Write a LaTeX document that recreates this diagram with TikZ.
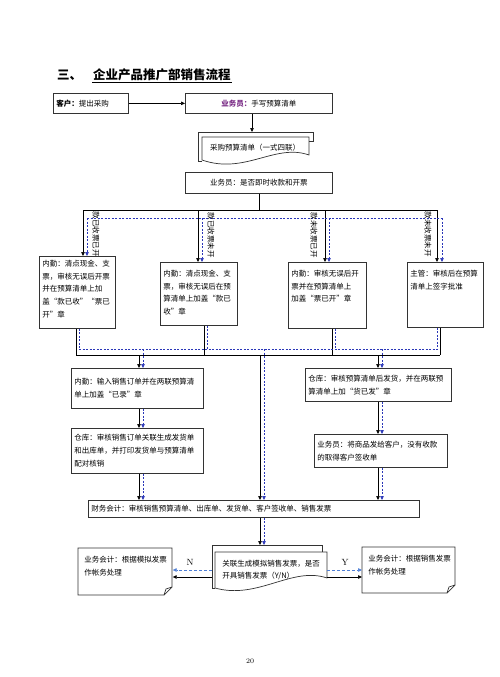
\documentclass[tikz,border=0pt]{standalone}
\usepackage{fontspec}
\newfontfamily\cjk{Noto Sans CJK SC}
\usetikzlibrary{arrows.meta}

\definecolor{ywypurple}{HTML}{7A2C86}
\definecolor{fanblue}{HTML}{2A36B8}
\definecolor{ynblue}{HTML}{4F7FD6}

\tikzset{
  box/.style={draw=black!80, line width=0.7pt, anchor=north west, inner sep=3pt, font=\cjk\fontsize{7.5}{12.8}\selectfont},
  txt/.style={font=\cjk\fontsize{7.5}{12.5}\selectfont, inner sep=1pt},
  ttl/.style={font=\cjk\bfseries\fontsize{12.5}{14}\selectfont, inner sep=1pt, anchor=west},
  vlab/.style={font=\cjk\fontsize{7.5}{8}\selectfont, rotate=-90, inner sep=0.5pt},
  yn/.style={font=\fontsize{9}{10}\selectfont, inner sep=1pt},
  outline/.style={draw=black!80, line width=0.7pt},
  conn/.style={draw=black, line width=0.6pt},
  arr/.style={conn, -{Triangle[length=4pt,width=3.5pt]}},
  dconn/.style={draw=fanblue, line width=0.6pt, dash pattern=on 2pt off 1.5pt},
  darr/.style={dconn, -{Triangle[length=4pt,width=3.5pt]}},
  ynarr/.style={draw=ynblue, line width=0.6pt, dash pattern=on 3pt off 2pt, -{Triangle[length=4pt,width=3.5pt]}},
}

\begin{document}
\begin{tikzpicture}[x=1pt,y=1pt,yscale=-1]
\useasboundingbox (0,0) rectangle (500,677);

% Title
\node[ttl] (nNo) at (56,75) {三、};
\node[ttl] (nTitle) at (92,75) {企业产品推广部销售流程};
\draw[line width=0.6pt] (nTitle.south west) -- (nTitle.south east);

% Top row
\node[box, text width=69pt, minimum height=20pt, align=left] (nKehu) at (53,93) {\textbf{客户：}提出采购};
\node[box, minimum width=147pt, minimum height=20pt] (nYwy) at (185,93) {\textcolor{ywypurple}{\textbf{业务员：}}手写预算清单};
\draw[arr] (nKehu) -- (nYwy);

%Shape: purchase list (multi document)
\draw[outline] (202,161) -- (198,161) -- (198,132) -- (313,132) -- (313,141) -- (309,141);
\draw[outline] (202,137) -- (309,137) -- (309,155) .. controls (275,143) and (245,175) .. (202,160) -- cycle;
\node[txt] (nDoc) at (255,148) {采购预算清单（一式四联）};
\coordinate (docTop) at (252,132);
\draw[arr] (nYwy.south -| docTop) -- (docTop);

\node[box, minimum width=147pt, minimum height=21pt] (nQ) at (185,172) {业务员：是否即时收款和开票};

% Fan out to the four cases
\coordinate (cA) at (83,210);  \coordinate (cB) at (198,210);
\coordinate (cC) at (325,210); \coordinate (cD) at (437,210);
\coordinate (dA) at (87,218);  \coordinate (dB) at (202,218);
\coordinate (dC) at (329,218); \coordinate (dD) at (442,218);

\node[box, inner ysep=3.5pt] (nA) at (39,256) {\parbox[t][65pt][t]{70pt}{内勤：清点现金、支\\票，审核无误后开票\\并在预算清单上加\\盖“款已收”“票已\\开”章}};
\node[box, inner ysep=7.5pt] (nB) at (160,262) {\parbox[t][48pt][t]{71pt}{内勤：清点现金、支\\票，审核无误后在预\\算清单上加盖“款已\\收”章}};
\node[box, inner ysep=7.5pt] (nC) at (288,262) {\parbox[t][51pt][t]{72pt}{内勤：审核无误后开\\票并在预算清单上\\加盖“票已开”章}};
\node[box, inner ysep=7.5pt] (nD) at (407,262) {\parbox[t][50pt][t]{70pt}{主管：审核后在预算\\清单上签字批准}};

\draw[conn] (nQ.south) -- (nQ.south |- cA);
\draw[conn] (cA) -- (cD);
\foreach \c/\n in {cA/nA,cB/nB,cC/nC,cD/nD}
  \draw[arr] (\c) -- (\c |- \n.north);
\draw[dconn] (dA) -- (dD);
\foreach \c/\n in {dA/nA,dB/nB,dC/nC,dD/nD}
  \draw[darr] (\c) -- (\c |- \n.north);

\node[vlab] (lA) at (96,234) {款已收票已开};
\node[vlab] (lB) at (211,235) {款已收票未开};
\node[vlab] (lC) at (314,235) {款未收票已开};
\node[vlab] (lD) at (428,234) {款未收票未开};

% Merge below the four cases
\coordinate (bA) at (76,355);  \coordinate (bB) at (204,355);
\coordinate (bC) at (332,355); \coordinate (bD) at (440,355);
\coordinate (eA) at (79,349);  \coordinate (eB) at (207,349);
\coordinate (eC) at (335,349); \coordinate (eD) at (437,349);
\coordinate (bE) at (139,355); \coordinate (bI) at (260,355); \coordinate (bG) at (378,355);
\coordinate (eE) at (143,349); \coordinate (eI) at (264,349); \coordinate (eG) at (382,349);

\foreach \c/\n in {bA/nA,bB/nB,bC/nC,bD/nD}
  \draw[conn] (\n.south -| \c) -- (\c);
\foreach \c/\n in {eA/nA,eB/nB,eC/nC,eD/nD}
  \draw[dconn] (\n.south -| \c) -- (\c);
\draw[conn] (bA) -- (bD);
\draw[dconn] (eA) -- (eD);

% Second level
\node[box, text width=126pt, minimum height=40pt, align=left] (nE) at (71,368) {内勤：输入销售订单并在两联预算清\\单上加盖“已录”章};
\node[box, text width=126pt, minimum height=45pt, align=left] (nF) at (71,428) {仓库：审核销售订单关联生成发货单\\和出库单，并打印发货单与预算清单\\配对核销};
\node[box, text width=140pt, minimum height=33pt, align=left] (nG) at (305,368) {仓库：审核预算清单后发货，并在两联预\\算清单上加“货已发”章};
\node[box, text width=127pt, minimum height=33pt, align=left] (nH) at (314,434) {业务员：将商品发给客户，没有收款\\的取得客户签收单};
\node[box, text width=325pt, minimum height=17pt, align=left] (nI) at (88,500) {财务会计：审核销售预算清单、出库单、发货单、客户签收单、销售发票};

\draw[arr] (bE) -- (bE |- nE.north);
\draw[darr] (eE) -- (eE |- nE.north);
\draw[arr] (bE |- nE.south) -- (bE |- nF.north);
\draw[darr] (eE |- nE.south) -- (eE |- nF.north);
\draw[arr] (bE |- nF.south) -- (bE |- nI.north);
\draw[darr] (eE |- nF.south) -- (eE |- nI.north);

\draw[arr] (bI) -- (bI |- nI.north);
\draw[darr] (eI) -- (eI |- nI.north);

\draw[arr] (bG) -- (bG |- nG.north);
\draw[darr] (eG) -- (eG |- nG.north);
\draw[arr] (bG |- nG.south) -- (bG |- nH.north);
\draw[darr] (eG |- nG.south) -- (eG |- nH.north);
\draw[arr] (bG |- nH.south) -- (bG |- nI.north);
\draw[darr] (eG |- nH.south) -- (eG |- nI.north);

%Shape: invoice (multi document)
\draw[outline] (215,588) -- (212,588) -- (212,545) -- (322,545) -- (322,552);
\draw[outline] (215,552) -- (327,552) -- (327,578) .. controls (292,566) and (258,600) .. (215,588) -- cycle;
\node[txt, minimum width=112pt, minimum height=36pt, anchor=north west, align=left] (nJ) at (215,552) {关联生成模拟销售发票，是否\\开具销售发票（Y/N）};
\coordinate (jTop) at (260,545);
\draw[arr] (bI |- nI.south) -- (jTop);
\draw[darr] (eI |- nI.south) -- (eI |- jTop);

%Shape: folded corner notes
\draw[outline] (78,548) -- (172,548) -- (172,587) -- (164,595) -- (78,595) -- cycle;
\draw[outline] (164,595) -- (166,589) -- (172,587);
\draw[outline] (362,547) -- (455,547) -- (455,585) -- (447,593) -- (362,593) -- cycle;
\draw[outline] (447,593) -- (449,587) -- (455,585);
\node[box, draw=none, inner xsep=6pt, inner ysep=8pt] (nK) at (78,548) {\parbox[t][31pt][t]{82pt}{业务会计：根据模拟发票\\作帐务处理}};
\node[box, draw=none, inner xsep=6pt, inner ysep=8pt] (nL) at (362,547) {\parbox[t][30pt][t]{81pt}{业务会计：根据销售发票\\作帐务处理}};

\coordinate (jLd) at (212,570); \coordinate (jLs) at (212,577);
\coordinate (jRd) at (327,570); \coordinate (jRs) at (327,577);
\draw[ynarr] (jLd) -- (jLd -| nK.east);
\draw[arr] (jLs) -- (jLs -| nK.east);
\draw[ynarr] (jRd) -- (jRd -| nL.west);
\draw[arr] (jRs) -- (jRs -| nL.west);
\node[yn] (lN) at (190,562) {N};
\node[yn] (lY) at (345,562) {Y};

% Page number
\node[font=\fontsize{7}{8}\selectfont] (nPage) at (250,661) {20};

\end{tikzpicture}
\end{document}
